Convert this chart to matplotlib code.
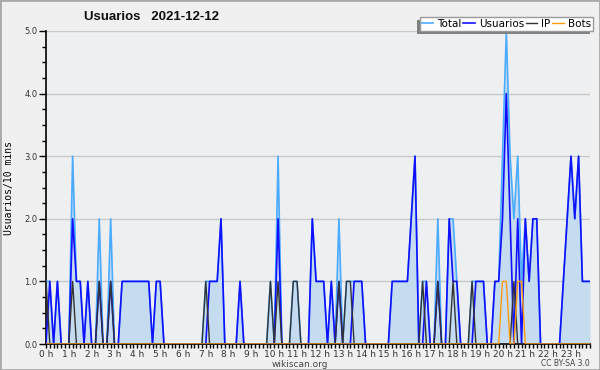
import matplotlib
matplotlib.use("Agg")
import matplotlib.pyplot as plt
from matplotlib.patches import Rectangle
from matplotlib.ticker import MultipleLocator
import numpy as np

# values per 10-minute slot, 6 slots per hour, 0 h .. 23 h
total = [1, 1, 0, 1, 0, 0,  0, 3, 1, 1, 0, 1,  0, 0, 2, 0, 0, 2,  0, 0, 1, 1, 1, 1,
         1, 1, 1, 1, 0, 1,  1, 0, 0, 0, 0, 0,  0, 0, 0, 0, 0, 0,  1, 1, 1, 1, 2, 0,
         0, 0, 0, 1, 0, 0,  0, 0, 0, 0, 0, 1,  0, 3, 0, 0, 0, 1,  1, 0, 0, 0, 2, 1,
         1, 1, 0, 1, 0, 2,  0, 1, 1, 1, 1, 1,  0, 0, 0, 0, 0, 0,  0, 1, 1, 1, 1, 1,
         2, 3, 0, 1, 1, 0,  0, 2, 0, 0, 2, 2,  1, 0, 0, 0, 1, 1,  1, 1, 0, 0, 1, 1,
         3, 5, 3, 2, 3, 1,  2, 1, 2, 2, 0, 0,  0, 0, 0, 0, 1, 2,  3, 2, 3, 1, 1, 1]
usuarios = [0, 1, 0, 1, 0, 0,  0, 2, 1, 1, 0, 1,  0, 0, 1, 0, 0, 1,  0, 0, 1, 1, 1, 1,
            1, 1, 1, 1, 0, 1,  1, 0, 0, 0, 0, 0,  0, 0, 0, 0, 0, 0,  0, 1, 1, 1, 2, 0,
            0, 0, 0, 1, 0, 0,  0, 0, 0, 0, 0, 0,  0, 2, 0, 0, 0, 0,  0, 0, 0, 0, 2, 1,
            1, 1, 0, 1, 0, 1,  0, 0, 0, 1, 1, 1,  0, 0, 0, 0, 0, 0,  0, 1, 1, 1, 1, 1,
            2, 3, 0, 0, 1, 0,  0, 1, 0, 0, 2, 1,  1, 0, 0, 0, 0, 1,  1, 1, 0, 0, 1, 1,
            2, 4, 2, 0, 2, 0,  2, 1, 2, 2, 0, 0,  0, 0, 0, 0, 1, 2,  3, 2, 3, 1, 1, 1]
ip = [1, 0, 0, 0, 0, 0,  0, 1, 0, 0, 0, 0,  0, 0, 1, 0, 0, 1,  0, 0, 0, 0, 0, 0,
      0, 0, 0, 0, 0, 0,  0, 0, 0, 0, 0, 0,  0, 0, 0, 0, 0, 0,  1, 0, 0, 0, 0, 0,
      0, 0, 0, 0, 0, 0,  0, 0, 0, 0, 0, 1,  0, 1, 0, 0, 0, 1,  1, 0, 0, 0, 0, 0,
      0, 0, 0, 0, 0, 1,  0, 1, 1, 0, 0, 0,  0, 0, 0, 0, 0, 0,  0, 0, 0, 0, 0, 0,
      0, 0, 0, 1, 0, 0,  0, 1, 0, 0, 0, 1,  0, 0, 0, 0, 1, 0,  0, 0, 0, 0, 0, 0,
      0, 0, 0, 1, 0, 0,  0, 0, 0, 0, 0, 0,  0, 0, 0, 0, 0, 0,  0, 0, 0, 0, 0, 0]
bots = [0] * 120 + [1, 1, 0, 0, 1, 1] + [0] * 18
hour_labels = [f"{h} h" for h in range(24)]

x = np.arange(len(total)) / 6.0

fig = plt.figure(figsize=(6, 3.7), dpi=100, facecolor="#f0f0f0")
ax = fig.add_axes([46 / 600, 1 - 344 / 370, 544 / 600, 313 / 370])
ax.set_facecolor("#eeeff1")

ax.fill_between(x, total, 0, color="#c5dcf0", lw=0, zorder=1)
ax.plot(x, total, color="#4aabff", lw=1.2, label="Total", zorder=3)
ax.plot(x, usuarios, color="#1010ff", lw=1.2, label="Usuarios", zorder=4)
ax.plot(x, ip, color="#333333", lw=1.0, label="IP", zorder=5)
ax.plot(x, bots, color="#ff9a10", lw=1.0, label="Bots", zorder=6)

ax.set_xlim(0, x[-1])
ax.set_ylim(0, 5)
ax.yaxis.set_major_locator(MultipleLocator(1))
ax.yaxis.set_minor_locator(MultipleLocator(0.25))
ax.set_yticklabels([f"{v:.1f}" for v in ax.get_yticks()])
ax.set_xticks(range(24))
ax.set_xticklabels(hour_labels)
ax.set_xticks(x, minor=True)
ax.grid(axis="y", color="#c8c8c8", lw=1, zorder=0)
ax.set_axisbelow(True)

for s in ["top", "right"]:
    ax.spines[s].set_visible(False)
ax.spines["left"].set_linewidth(1.2)
ax.spines["bottom"].set_linewidth(1.2)
ax.tick_params(axis="y", which="major", length=5, width=1, labelsize=6, pad=1,
               labelcolor="#333333")
ax.tick_params(axis="y", which="minor", length=3, width=1)
ax.tick_params(axis="x", which="both", length=3, width=1, labelsize=6.5, pad=1,
               labelcolor="#333333")

ax.set_ylabel("Usuarios/10 mins", family="DejaVu Sans Mono", fontsize=7)
ax.yaxis.set_label_coords(-0.058, 0.5)

fig.text(0.252, 0.955, "Usuarios   2021-12-12", family="Liberation Sans",
         fontweight="bold", fontsize=9.5, ha="center", va="center", color="#111111")
fig.text(0.5, 0.016, "wikiscan.org", fontsize=6.5, ha="center", va="center",
         color="#444444")
fig.text(0.983, 0.018, "CC BY-SA 3.0", fontsize=5.5, ha="right", va="center",
         color="#444444")

leg = fig.legend(loc="upper right", bbox_to_anchor=(593 / 600, 1 - 17 / 370),
                 ncol=4, fontsize=7.5, frameon=True, fancybox=False,
                 handlelength=1.1, handletextpad=0.4, columnspacing=0.15,
                 borderpad=0.2, borderaxespad=0)
leg.get_frame().set_facecolor("white")
leg.get_frame().set_edgecolor("#999999")
leg.get_frame().set_alpha(1)
leg.set_zorder(5)

fig.canvas.draw()
bb = leg.get_window_extent()
fig.patches.append(Rectangle((bb.x0 - 3, bb.y0 - 3), bb.width, bb.height,
                             transform=None, facecolor="#808080", lw=0, zorder=4))
fig.patches.append(Rectangle((0, 0), 1, 1, transform=fig.transFigure, fill=False,
                             edgecolor="#aaaaaa", lw=2, zorder=10))

fig.savefig("out.png", dpi=100, facecolor=fig.get_facecolor())
